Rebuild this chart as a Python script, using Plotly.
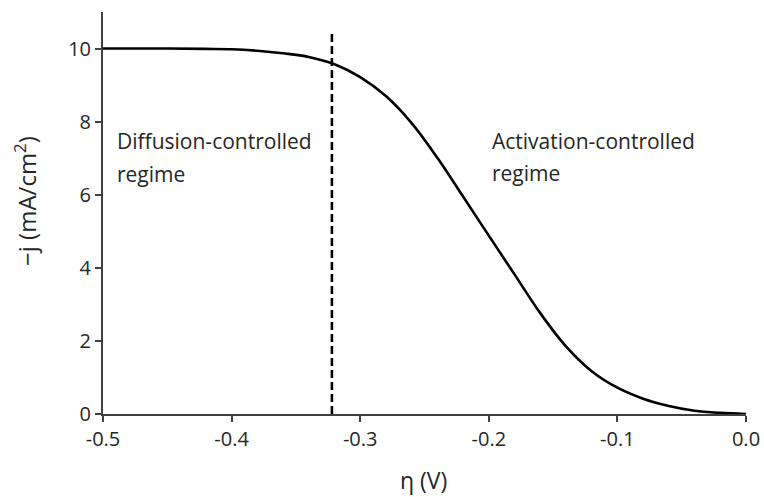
import plotly.graph_objects as go

# Polarization curve
eta = [-0.50, -0.45, -0.42, -0.40, -0.38, -0.36, -0.34, -0.32, -0.30, -0.28,
       -0.26, -0.24, -0.22, -0.20, -0.18, -0.16, -0.14, -0.12, -0.10, -0.08,
       -0.06, -0.04, -0.02, 0.00]
neg_j = [10.00, 10.00, 9.99, 9.98, 9.94, 9.87, 9.77, 9.57, 9.22, 8.70,
         7.96, 7.01, 5.95, 4.88, 3.82, 2.76, 1.85, 1.17, 0.72, 0.42,
         0.22, 0.09, 0.03, 0.00]

# Boundary between regimes (dashed line)
boundary_x = [-0.322, -0.322]
boundary_y = [0.0, 10.4]

x_ticks = [-0.5, -0.4, -0.3, -0.2, -0.1, 0.0]
x_tick_labels = ["-0.5", "-0.4", "-0.3", "-0.2", "-0.1", "0.0"]
y_ticks = [0, 2, 4, 6, 8, 10]
y_tick_labels = ["0", "2", "4", "6", "8", "10"]

FONT = "Open Sans"
TXT = "#262626"
AX = "#404040"

fig = go.Figure()
fig.add_trace(go.Scatter(x=eta, y=neg_j, mode="lines",
                         line=dict(color="black", width=2.6, shape="spline", smoothing=1.0),
                         hoverinfo="skip", showlegend=False))
fig.add_trace(go.Scatter(x=boundary_x, y=boundary_y, mode="lines",
                         line=dict(color="black", width=2.6, dash="8px,4px"),
                         hoverinfo="skip", showlegend=False))

annots = [
    dict(text="Diffusion-controlled", x=-0.4907, y=7.46),
    dict(text="regime", x=-0.4907, y=6.58),
    dict(text="Activation-controlled", x=-0.199, y=7.48),
    dict(text="regime", x=-0.199, y=6.60),
]
for a in annots:
    fig.add_annotation(text=a["text"], x=a["x"], y=a["y"], xref="x", yref="y",
                       xanchor="left", yanchor="middle", showarrow=False,
                       font=dict(family=FONT, size=21, color=TXT))

fig.add_annotation(text="\u2212j (mA/cm<sup>2</sup>)", xref="paper", yref="paper",
                   x=-0.1198, y=0.53, xanchor="center", yanchor="middle",
                   textangle=-90, showarrow=False,
                   font=dict(family=FONT, size=24, color=TXT))
fig.add_annotation(text="\u03b7 (V)", xref="paper", yref="paper",
                   x=0.498, y=-0.165, xanchor="center", yanchor="middle",
                   showarrow=False, font=dict(family=FONT, size=23, color=TXT))

fig.update_xaxes(range=[-0.5, 0.0], tickvals=x_ticks, ticktext=x_tick_labels,
                 showline=True, linecolor=AX, linewidth=2, ticks="outside",
                 ticklen=6, tickwidth=1.5, tickcolor=AX, showgrid=False, zeroline=False,
                 automargin=False,
                 tickfont=dict(family=FONT, size=20, color=TXT))
fig.update_yaxes(range=[0, 11], tickvals=y_ticks, ticktext=y_tick_labels,
                 showline=True, linecolor=AX, linewidth=2, ticks="outside",
                 ticklen=6, tickwidth=1.5, tickcolor=AX, showgrid=False, zeroline=False,
                 automargin=False,
                 tickfont=dict(family=FONT, size=20, color=TXT))

fig.update_layout(width=764, height=497, margin=dict(l=103, r=18, t=12, b=83),
                  plot_bgcolor="white", paper_bgcolor="white")

fig.write_html("out.html")
